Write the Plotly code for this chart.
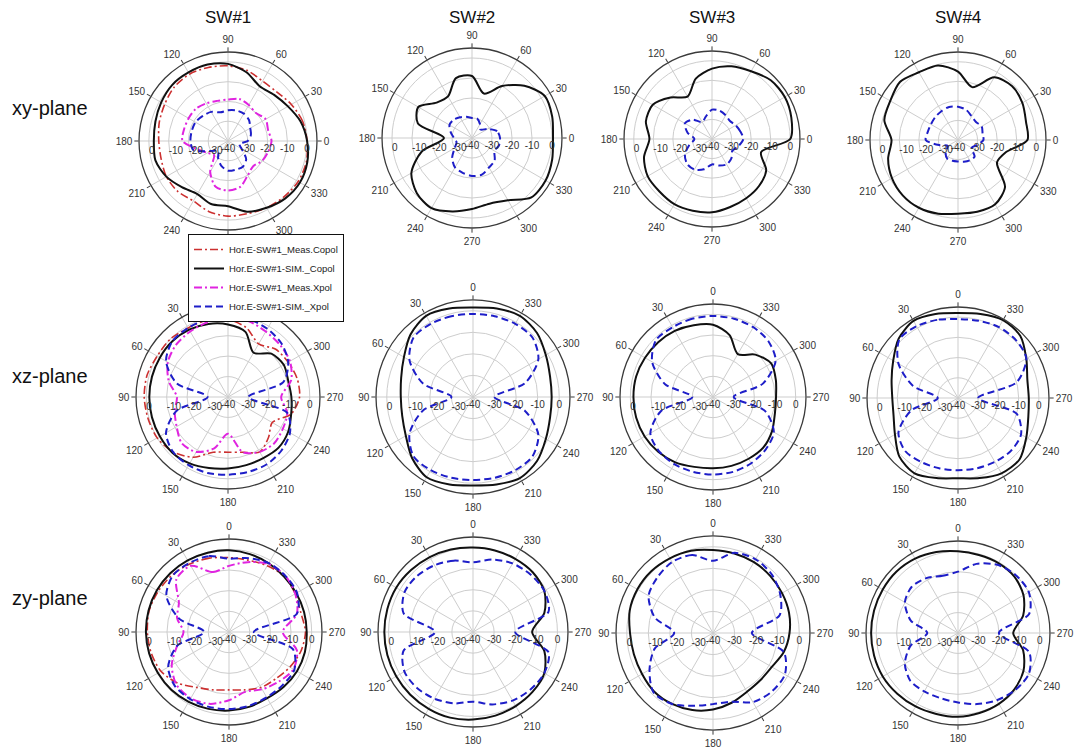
import plotly.graph_objects as go

W, H = 1083, 752

# ---------------- data (dB, every 15 deg) ----------------
ANGLES = list(range(0, 360, 15))
TICK_ANGLES = list(range(0, 360, 30))
RADIAL_TICKS = [-40, -30, -20, -10, 0]
SW_NAMES = ["SW#1", "SW#2", "SW#3", "SW#4"]
PLANE_NAMES = ["xy-plane", "xz-plane", "zy-plane"]
LEGEND_NAMES = ["Hor.E-SW#1_Meas.Copol", "Hor.E-SW#1-SIM._Copol",
                "Hor.E-SW#1_Meas.Xpol", "Hor.E-SW#1-SIM._Xpol"]

# xy-plane
XY_SW1_MEAS_CO = [0, -1, -3, -5, -5, -3, -2, -1.5, -1, -1.5, -3, -4, -5, -5, -4, -4, -5, -3, -2, -2, -1, 0, 1, 1]
XY_SW1_SIM_CO = [0, -2, -5, -7, -8, -4, -1, 0, 0, 0, -1, -2, -2.5, -2, -4, -7, -9, -7, -7, -3, -1, 1, 2, 1.5]
XY_SW1_MEAS_X = [-18, -19, -18, -20, -19, -18, -19, -19, -18, -17, -17, -17, -17, -24, -28, -30, -22, -16, -15, -16, -20, -22, -20, -19]
XY_SW1_SIM_X = [-30, -28, -27, -25, -24, -24, -24.5, -25, -23, -22, -21, -21, -21, -22, -30, -33, -30, -27, -25, -25, -25, -27, -32, -34]
XY_SW2_SIM_CO = [0.5, 1.5, 2, -3, -10, -17, -9, -9, -16, -15, -9, -12, -26, -14, -5, -1, 0.5, -2, -4.5, -6, -4, 2, 2.5, 1.5]
XY_SW2_SIM_X = [-26, -27, -31, -34, -32, -30, -30, -29, -28, -27, -27, -29, -31, -32, -30, -26, -23, -22, -21, -21, -23, -24, -27, -26]
XY_SW3_SIM_CO = [0, 2, 3, 2.5, 0, -1.5, -4, -8, -15, -10, -5, -5, -8, -4, -2, -2, -1.5, -2, -2.5, -4, -5, -6, -8, -14]
XY_SW3_SIM_X = [-24, -25, -26, -27, -26, -25, -25, -28, -30, -26, -24, -27, -31, -28, -24, -22, -22, -24, -27, -26, -25, -26, -28, -26]
XY_SW4_SIM_CO = [-4.5, -4, -2, -1, -3, -12, -5, -0.5, 0, 2, 0, -1, -6, -3, -1, 0, 0, -1, -2.3, -2, -2, -6, -17, -15]
XY_SW4_SIM_X = [-27, -27, -26, -27, -26, -24, -23, -22.5, -23, -23.5, -24, -24, -23.5, -30, -34, -31, -29, -29, -29, -28.5, -28, -28, -32, -30]

# xz-plane
XZ_SW1_MEAS_CO = [-2, -1, -1, 0, 0, 1, 1, 0.5, 0, -2, -6, -12, -13, -12, -9, -12, -15, -8, -5, -5, -6, -7, -10, -5]
XZ_SW1_SIM_CO = [-4.5, -3, -2, -1.5, -1.5, -1.5, -1.5, -1.5, -1.5, -1.5, -2.5, -4, -5, -5.5, -5.5, -5, -6, -8, -9, -9.5, -8.5, -10, -15, -7]
XZ_SW1_MEAS_X = [-1, -2, -3, -4, -6, -10, -15, -13, -11, -8, -9, -14, -22, -12, -9, -8, -9, -10, -14, -8, -5, -4, -3, -1.5]
XZ_SW1_SIM_X = [0, -0.5, -1, -1.5, -5, -14, -30, -14, -5, -2, -1.5, -1.5, -2, -2, -2, -3, -5, -10, -30, -12, -6, -3, -1.5, -0.5]
XZ_SW2_SIM_CO = [1.5, 2.5, 3.5, 1, -3, -5.5, -6.5, -6, -4, 0, 3, 2, 1, 2, 3.5, 2, -1, -3, -3.5, -3, -1, 2, 3.5, 2.5]
XZ_SW2_SIM_X = [-1.5, -1.2, -0.8, -1, -6, -16, -30, -16, -6, -1, -0.8, -1.2, -1.5, -1.2, -0.8, -1, -5, -15, -30, -15, -5, -1, -0.8, -1.2]
XZ_SW3_SIM_CO = [-5, -4, -3, -2.5, -2, -1.5, -1.5, -1.5, -1.8, -2.5, -3.5, -5, -5.5, -5.5, -5.5, -5.5, -7, -9, -9.5, -8.5, -7.5, -11, -16, -9]
XZ_SW3_SIM_X = [-0.8, -0.8, -1, -1, -6, -16, -30, -14, -5, -3, -2.5, -2.5, -2.5, -2.5, -3, -4, -6, -14, -30, -15, -5, -2, -1, -0.8]
XZ_SW4_SIM_CO = [2, 3, 4, 1.5, -3, -6, -7.5, -7, -4, 1, 3, 1, -0.3, 1, 3, 3, -1, -4, -5, -4.5, -1, 3.5, 4.5, 3]
XZ_SW4_SIM_X = [-1, 0, 1, 1, -6, -17, -30, -16, -6, -3, -3.5, -4, -4.3, -4, -3.5, -3, -4, -10, -30, -10, -1, 0.5, 0.5, -0.5]

# zy-plane
ZY_SW1_MEAS_CO = [-4, -3, -2, -1, -0.5, 0, -0.5, -1, -2, -5, -9, -11, -12, -11, -9, -8, -6, -4, -3, -4, -3, -2, -3, -4]
ZY_SW1_SIM_CO = [-0.5, -0.3, 0, 0.2, 0.3, 0.3, 0.2, 0, -0.3, -0.5, -1, -1.5, -2, -2.5, -3, -2.5, -2, -2, -2.4, -2.4, -2.4, -2.2, -1.6, -1]
ZY_SW1_MEAS_X = [-8, -10, -3, -4, -12, -14, -18, -14, -8, -4, -3, -4, -7, -10, -8, -6, -4, -6, -14, -6, -3, -1.5, -2, -5]
ZY_SW1_SIM_X = [-4.5, -2, -1.5, -1.5, -5, -15, -28, -14, -6, -3, -2.5, -2.5, -2.7, -3, -3.5, -3.5, -3.5, -8, -28, -6, -2, -1.5, -1.5, -3]
ZY_SW2_SIM_CO = [0, 0.5, 1, 1.5, 2, 2, 2, 2, 2, 2, 2, 2, 1.5, 1, 0.5, 0, -1, -5, -12, -5, -1, 0, 0, 0]
ZY_SW2_SIM_X = [-7, -5, -3.5, -2.5, -2.5, -6, -22, -6, -2.5, -2.5, -3.5, -5, -7, -4.5, -2.5, -1.5, -1, -3, -20, -3, -1, -1.5, -2.5, -4.5]
ZY_SW3_SIM_CO = [-1.5, -0.5, 0, 0.5, 0.5, 0, -1.5, -2, -2, -1.5, -2, -3, -4.5, -6.5, -8.5, -9, -8.5, -6, -4.5, -3.5, -3, -2.5, -2, -1.8]
ZY_SW3_SIM_X = [-6.5, -2.5, -2, -3.5, -5.5, -12, -22, -12, -6, -1, -2, -5, -7, -7, -3, -1.5, -1.5, -6, -22, -8, -4, -1.5, -0.5, -1.5]
ZY_SW4_SIM_CO = [0, 1, 2, 2.5, 2.5, 2.5, 2.5, 2.5, 2.5, 2, 1.5, 1, 1, 0.5, 0, -1, -3, -7, -13, -7, -3, -1, -0.5, -0.5]
ZY_SW4_SIM_X = [-10, -11, -9, -8, -10, -16, -25, -16, -10, -7, -7, -7, -6, -4, -2, -0.5, 0, -4, -20, -4, 0, 0, -1.5, -5]

# ---------------- layout geometry (pixel centre / outer radius of each polar) ----------------
GEOM = [
    [(228, 141, 89), (472, 138, 90), (712, 139, 88), (958, 140, 88)],
    [(228, 397, 92), (473, 397, 97), (713, 397, 93), (958, 398, 91)],
    [(229, 632, 93), (473, 632, 95), (713, 633, 97), (958, 633, 92)],
]
ROTATION = [0, 90, 90]

STYLE = {
    "meas_co": dict(color="#cc3030", width=1.6, dash="8px,3px,2px,3px"),
    "sim_co": dict(color="#111111", width=2.0, dash="solid"),
    "meas_x": dict(color="#e024e0", width=2.0, dash="8px,3px,2px,3px"),
    "sim_x": dict(color="#1e1ec8", width=2.0, dash="7px,4px"),
}
ORDER = ["meas_co", "sim_co", "meas_x", "sim_x"]

PLOTS = {
    (0, 0): {"meas_co": XY_SW1_MEAS_CO, "sim_co": XY_SW1_SIM_CO, "meas_x": XY_SW1_MEAS_X, "sim_x": XY_SW1_SIM_X},
    (0, 1): {"sim_co": XY_SW2_SIM_CO, "sim_x": XY_SW2_SIM_X},
    (0, 2): {"sim_co": XY_SW3_SIM_CO, "sim_x": XY_SW3_SIM_X},
    (0, 3): {"sim_co": XY_SW4_SIM_CO, "sim_x": XY_SW4_SIM_X},
    (1, 0): {"meas_co": XZ_SW1_MEAS_CO, "sim_co": XZ_SW1_SIM_CO, "meas_x": XZ_SW1_MEAS_X, "sim_x": XZ_SW1_SIM_X},
    (1, 1): {"sim_co": XZ_SW2_SIM_CO, "sim_x": XZ_SW2_SIM_X},
    (1, 2): {"sim_co": XZ_SW3_SIM_CO, "sim_x": XZ_SW3_SIM_X},
    (1, 3): {"sim_co": XZ_SW4_SIM_CO, "sim_x": XZ_SW4_SIM_X},
    (2, 0): {"meas_co": ZY_SW1_MEAS_CO, "sim_co": ZY_SW1_SIM_CO, "meas_x": ZY_SW1_MEAS_X, "sim_x": ZY_SW1_SIM_X},
    (2, 1): {"sim_co": ZY_SW2_SIM_CO, "sim_x": ZY_SW2_SIM_X},
    (2, 2): {"sim_co": ZY_SW3_SIM_CO, "sim_x": ZY_SW3_SIM_X},
    (2, 3): {"sim_co": ZY_SW4_SIM_CO, "sim_x": ZY_SW4_SIM_X},
}

FONT = "Liberation Sans, Arial, sans-serif"
TICKFONT = dict(family=FONT, size=10, color="#333333")
GRID = "#cdcdcd"

fig = go.Figure()
layout = {}

for r in range(3):
    for c in range(4):
        idx = r * 4 + c + 1
        main = "polar" if idx == 1 else f"polar{idx}"
        over = f"polar{idx + 12}"
        cx, cy, R = GEOM[r][c]
        dom = dict(x=[(cx - R) / W, (cx + R) / W], y=[1 - (cy + R) / H, 1 - (cy - R) / H])
        rot = ROTATION[r]
        layout[main] = dict(
            domain=dom, bgcolor="white",
            angularaxis=dict(rotation=rot, direction="counterclockwise", tickmode="array",
                             tickvals=TICK_ANGLES, ticktext=[str(a) for a in TICK_ANGLES],
                             showgrid=True, gridcolor=GRID, gridwidth=1,
                             linecolor="#3a3a3a", linewidth=1.3, ticks="outside", ticklen=4,
                             tickcolor="#3a3a3a", tickfont=TICKFONT),
            radialaxis=dict(range=[-40, 5], tickmode="array", tickvals=RADIAL_TICKS,
                            ticktext=[str(v) for v in RADIAL_TICKS], angle=0, side="clockwise",
                            showline=False, showgrid=True, gridcolor=GRID, gridwidth=1,
                            ticks="", tickfont=TICKFONT),
        )
        layout[over] = dict(
            domain=dom, bgcolor="rgba(0,0,0,0)",
            angularaxis=dict(rotation=rot, direction="counterclockwise", visible=False),
            radialaxis=dict(range=[-40, 5], tickmode="array", tickvals=RADIAL_TICKS[1:],
                            ticktext=[str(v) for v in RADIAL_TICKS[1:]], angle=180,
                            side="counterclockwise", showline=False, showgrid=False,
                            ticks="", tickangle=180, tickfont=TICKFONT),
        )
        series = PLOTS[(r, c)]
        for k, key in enumerate(ORDER):
            if key not in series:
                continue
            vals = series[key]
            fig.add_trace(go.Scatterpolar(
                r=vals + vals[:1], theta=ANGLES + ANGLES[:1], mode="lines",
                line=dict(shape="spline", smoothing=0.8, **STYLE[key]),
                name=LEGEND_NAMES[k], showlegend=(r == 0 and c == 0),
                subplot=main, hoverinfo="skip",
            ))
        fig.add_trace(go.Scatterpolar(r=[], theta=[], subplot=over, showlegend=False,
                                      hoverinfo="skip", mode="lines"))

annotations = []
for c, name in enumerate(SW_NAMES):
    annotations.append(dict(text=name, x=GEOM[0][c][0] / W, y=1 - 18 / H, xref="paper", yref="paper",
                            showarrow=False, xanchor="center", yanchor="middle",
                            font=dict(family=FONT, size=17, color="#111111")))
ROW_Y = [108, 376, 598]
for r, name in enumerate(PLANE_NAMES):
    annotations.append(dict(text=name, x=10 / W, y=1 - ROW_Y[r] / H, xref="paper", yref="paper",
                            showarrow=False, xanchor="left", yanchor="middle",
                            font=dict(family=FONT, size=20, color="#111111")))

fig.update_layout(
    width=W, height=H, margin=dict(l=0, r=0, t=0, b=0),
    paper_bgcolor="white", plot_bgcolor="white",
    annotations=annotations,
    legend=dict(x=188 / W, y=1 - 234 / H, xanchor="left", yanchor="top",
                bgcolor="white", bordercolor="#111111", borderwidth=1,
                font=dict(family=FONT, size=9.5, color="#222222"),
                tracegroupgap=0, itemwidth=30),
    **layout,
)

fig.write_html("out.html")
